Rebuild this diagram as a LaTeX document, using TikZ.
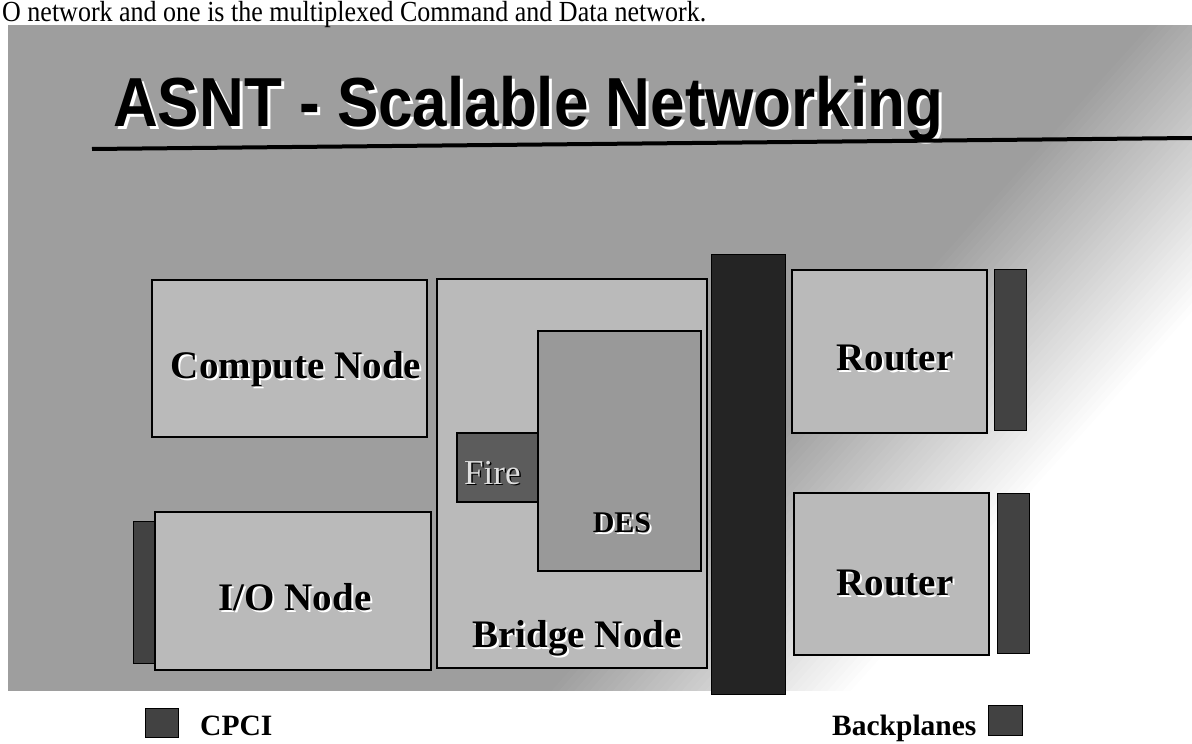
\documentclass[tikz,border=0pt]{standalone}
\usepackage{fontspec}
\setmainfont{Liberation Serif}
\setsansfont{Liberation Sans}
\usetikzlibrary{positioning}

\definecolor{bggray}{gray}{0.62}
\definecolor{boxgray}{gray}{0.73}
\definecolor{desgray}{gray}{0.6}
\definecolor{firegray}{gray}{0.36}
\definecolor{busgray}{gray}{0.14}
\definecolor{stripgray}{gray}{0.26}

% text with a white drop shadow
\newcommand{\shadowtxt}[1]{\makebox[0pt][l]{\kern2pt\raisebox{-2pt}{\color{white}#1}}#1}

\tikzset{
	nodebox/.style={draw=black, line width=2pt, fill=boxgray, inner sep=0pt},
	stripbox/.style={draw=black, line width=1pt, fill=stripgray, inner sep=0pt},
	lbl/.style={font=\bfseries\fontsize{39}{39}\selectfont, inner sep=0pt, anchor=base},
	legendtxt/.style={font=\bfseries\fontsize{29.5}{29.5}\selectfont, inner sep=0pt, anchor=base west},
}

\begin{document}
\begin{tikzpicture}[x=1pt,y=-1pt]
	\useasboundingbox (0,0) rectangle (1192,744);

	% slide background, fading out to the lower right
	\begin{scope}
	\clip (8,25) rectangle (1192,690);
	\begin{scope}[rotate=-41.99]
	\fill[bggray] (-3000,-3000) rectangle (873,3000);
	\foreach \i in {1,...,40}{
		\pgfmathsetmacro\pct{2.5*\i}
		\fill[white!\pct!bggray] ({872+(\i-1)*5.7},-3000) rectangle ({872+\i*5.7+0.6},3000);
	}
	\fill[white] (1100,-3000) rectangle (3000,3000);
	\end{scope}
	\end{scope}

	\node[font=\fontsize{26}{26}\selectfont, inner sep=0pt, anchor=base west] (intro) at (2,21)
		{\scalebox{1}[1.12]{O network and one is the multiplexed Command and Data network.}};

	% title and rule
	\node[font=\sffamily\bfseries\fontsize{62}{62}\selectfont, inner sep=0pt, anchor=base west] (title) at (113,126)
		{\scalebox{1}[1.12]{\makebox[0pt][l]{\kern3pt\raisebox{-3pt}{\color{white}ASNT - Scalable Networking}}ASNT - Scalable Networking}};
	\coordinate (rulestart) at (92,149);
	\coordinate (ruleend) at (1192,138);
	\draw[line width=4pt] (rulestart) -- (ruleend);

	% left column
	\node[nodebox, minimum width=275pt, minimum height=157pt] (compute) at (289.5,358.5) {};
	\node[stripbox, minimum width=22pt, minimum height=142pt] (cpci) at (144,592) {};
	\node[nodebox, minimum width=276pt, minimum height=158pt] (ionode) at (293,591) {};

	% bridge with firewall and DES
	\node[nodebox, minimum width=270pt, minimum height=389pt] (bridge) at (572,473.5) {};
	\node[draw=black, line width=2pt, fill=firegray, inner sep=0pt, minimum width=81pt, minimum height=69pt] (fire) at (497.5,467.5) {};
	\node[inner sep=0pt, anchor=base west, font=\fontsize{35}{35}\selectfont] (firelbl) at (464,484)
		{\makebox[0pt][l]{\kern1.5pt\raisebox{-1.5pt}{\color{black}Fire}}{\color{gray!25}Fire}};
	\node[draw=black, line width=2pt, fill=desgray, inner sep=0pt, minimum width=163pt, minimum height=240pt] (des) at (619.5,451) {};

	% bus
	\node[draw=black, fill=busgray, inner sep=0pt, minimum width=74pt, minimum height=440pt] (bus) at (748,474) {};

	% routers and backplanes
	\node[nodebox, minimum width=195pt, minimum height=163pt] (router1) at (889.5,351.5) {};
	\node[stripbox, minimum width=32pt, minimum height=161pt] (bp1) at (1010,349.5) {};
	\node[nodebox, minimum width=195pt, minimum height=162pt] (router2) at (891.5,574) {};
	\node[stripbox, minimum width=32pt, minimum height=160pt] (bp2) at (1013,573) {};

	% labels
	\node[lbl] (computelbl) at (296,378) {\shadowtxt{Compute Node}};
	\node[lbl] (iolbl) at (295,610) {\shadowtxt{I/O Node}};
	\node[lbl] (bridgelbl) at (577,647) {\shadowtxt{Bridge Node}};
	\node[lbl, font=\bfseries\fontsize{30}{30}\selectfont] (deslbl) at (622,532) {\shadowtxt{DES}};
	\node[lbl] (router1lbl) at (895,370) {\shadowtxt{Router}};
	\node[lbl] (router2lbl) at (895,595) {\shadowtxt{Router}};

	% legend
	\node[stripbox, minimum width=33pt, minimum height=29pt] (cpcikey) at (161.5,722.5) {};
	\node[legendtxt] (cpcitxt) at (200,735) {CPCI};
	\node[stripbox, minimum width=34pt, minimum height=30pt] (bpkey) at (1005,720) {};
	\node[legendtxt] (bptxt) at (832,735) {Backplanes};
\end{tikzpicture}
\end{document}
